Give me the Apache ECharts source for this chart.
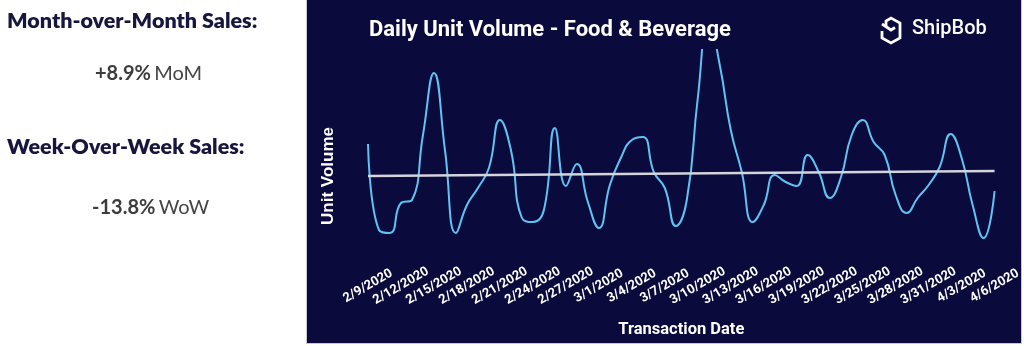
<!DOCTYPE html>
<html>
<head>
<meta charset="utf-8">
<script src="https://cdn.jsdelivr.net/npm/echarts@6/dist/echarts.min.js"></script>
<style>
html,body{margin:0;padding:0;background:#fff;}
#chart{width:1024px;height:346px;}
</style>
</head>
<body>
<div id="chart"></div>
<script>
// ---- data ----
const dates = ["2/9/2020","2/10/2020","2/11/2020","2/12/2020","2/13/2020","2/14/2020","2/15/2020","2/16/2020","2/17/2020","2/18/2020",
"2/19/2020","2/20/2020","2/21/2020","2/22/2020","2/23/2020","2/24/2020","2/25/2020","2/26/2020","2/27/2020","2/28/2020",
"2/29/2020","3/1/2020","3/2/2020","3/3/2020","3/4/2020","3/5/2020","3/6/2020","3/7/2020","3/8/2020","3/9/2020",
"3/10/2020","3/11/2020","3/12/2020","3/13/2020","3/14/2020","3/15/2020","3/16/2020","3/17/2020","3/18/2020","3/19/2020",
"3/20/2020","3/21/2020","3/22/2020","3/23/2020","3/24/2020","3/25/2020","3/26/2020","3/27/2020","3/28/2020","3/29/2020",
"3/30/2020","3/31/2020","4/1/2020","4/2/2020","4/3/2020","4/4/2020","4/5/2020","4/6/2020"];
const unitVolume = [106,20,17,47,50,115,177,100,17,45,
62,82,130,100,32,28,40,122,64,86,
48,22,65,92,110,113,78,62,24,50,
152,230,185,120,78,28,45,75,68,64,
95,78,52,72,115,130,108,95,55,37,
52,65,83,116,92,45,12,59];
const trendStartEnd = [74, 79];
const title = "Daily Unit Volume - Food & Beverage";
const yName = "Unit Volume";
const xName = "Transaction Date";
const momValue = "+8.9%", momUnit = "MoM";
const wowValue = "-13.8%", wowUnit = "WoW";

const chart = echarts.init(document.getElementById('chart'));
const navy = '#0a0a3c';
const head = '#16163e';

chart.setOption({
  backgroundColor: '#ffffff',
  animation: false,
  title: {
    text: title, left: 364, top: 14,
    textStyle: {color: '#fff', fontFamily: 'Roboto', fontWeight: 'bold', fontSize: 22}
  },
  graphic: [
    {type: 'rect', z: -10, shape: {x: 306.5, y: -1, width: 715, height: 344.5},
     style: {fill: navy, stroke: '#c8c8cc', lineWidth: 1}},
    {type: 'text', left: 7, top: 10, style: {text: 'Month-over-Month Sales:', fill: head, font: '800 21.5px Lato'}},
    {type: 'text', left: 95, top: 64, style: {text: '{b|' + momValue + '} {r|' + momUnit + '}',
      rich: {b: {fill: '#3c3c3c', font: 'bold 20px Lato'}, r: {fill: '#444', font: '20px Lato'}}}},
    {type: 'text', left: 7, top: 136, style: {text: 'Week-Over-Week Sales:', fill: head, font: '800 21.5px Lato'}},
    {type: 'text', left: 92, top: 198, style: {text: '{b|' + wowValue + '} {r|' + wowUnit + '}',
      rich: {b: {fill: '#3c3c3c', font: 'bold 20px Lato'}, r: {fill: '#444', font: '20px Lato'}}}},
    // y axis title
    {type: 'text', x: 328, y: 176, rotation: Math.PI / 2,
     style: {text: yName, fill: '#fff', font: 'bold 17px "Liberation Sans"', align: 'center', verticalAlign: 'middle'}},
    // ShipBob logo
    {type: 'polyline', shape: {points: [[886,26],[886,21],[891,18],[900,23],[900,38],[891,43],[882,38],[882,31]]},
     style: {stroke: '#fff', lineWidth: 2.8, fill: null, lineJoin: 'miter'}},
    {type: 'polyline', shape: {points: [[882,24],[891,30],[895,27.5]]},
     style: {stroke: '#fff', lineWidth: 2.8, fill: null}},
    {type: 'text', left: 912, top: 19, style: {text: 'ShipBob', fill: '#fff', font: '500 20px Roboto'}}
  ],
  grid: {left: 368, right: 21, top: 50, bottom: 96},
  xAxis: {
    type: 'category', data: dates, boundaryGap: false,
    name: xName, nameLocation: 'middle', nameGap: 71,
    nameTextStyle: {color: '#fff', fontFamily: 'Roboto', fontWeight: 'bold', fontSize: 16.5},
    axisLine: {show: false}, axisTick: {show: false},
    axisLabel: {interval: 2, rotate: 30, align: 'center', verticalAlign: 'middle', margin: 36,
      color: '#fff', fontFamily: 'Roboto', fontWeight: 'bold', fontSize: 13}
  },
  yAxis: {
    type: 'value', min: 0, max: 200,
    axisLine: {show: false}, axisTick: {show: false}, axisLabel: {show: false}, splitLine: {show: false}
  },
  series: [{
    type: 'line', data: unitVolume, smooth: 0.5, symbol: 'none', clip: true,
    lineStyle: {color: '#5ec4f4', width: 2},
    markLine: {
      silent: true, symbol: 'none', label: {show: false},
      lineStyle: {color: '#d4d4dc', width: 2.5, type: 'solid'},
      data: [[{xAxis: 0, yAxis: trendStartEnd[0]}, {xAxis: dates.length - 1, yAxis: trendStartEnd[1]}]]
    }
  }]
});
</script>
</body>
</html>
